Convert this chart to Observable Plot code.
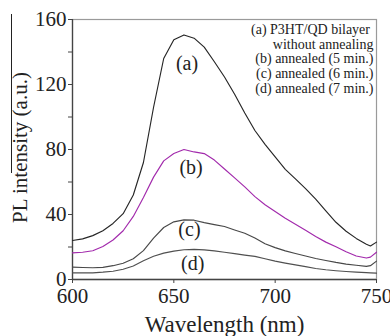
<!DOCTYPE html>
<html>
<head>
<meta charset="utf-8">
<script src="https://cdn.jsdelivr.net/npm/d3@7"></script>
<script src="https://cdn.jsdelivr.net/npm/@observablehq/plot@0.6"></script>
<style>
  html, body { margin: 0; padding: 0; background: #fff; }
  #wrap { position: relative; width: 390px; height: 336px; }
  #wrap svg text { font-family: "Liberation Serif", serif; }
  #stray { position: absolute; left: 11px; top: 14px; width: 1px; height: 159px; background: #222; }
</style>
</head>
<body>
<div id="wrap"><div id="stray"></div></div>
<script>
// Wavelength grid (nm)
const wavelength = [600,605,610,615,620,625,630,635,640,645,650,655,660,665,670,675,680,685,690,695,700,705,710,715,720,725,730,735,740,745,747,750];

// (a) P3HT/QD bilayer without annealing
const seriesA = [24,25,27,30,34.5,40.5,52,72,106,136,147.5,150.5,148.5,143,134,124.6,114,102.5,91.7,83.2,75.4,67.8,61.9,55.9,49.4,42.3,35.2,29.7,25.3,21.7,20.6,23];
// (b) annealed (5 min.)
const seriesB = [16.4,16.8,17.7,20.3,24.3,30,38.8,50.5,63,73,77.5,80,78.5,77.5,73.5,68,62.5,57,51,46,41.8,37.7,34,30.3,26.5,23,20.2,17.1,14.5,13.2,13.8,16.8];
// (c) annealed (6 min.)
const seriesC = [7.6,7.4,7.2,7.5,8.5,10,12.8,17.8,25.5,32,35.5,36.7,36.5,35,33.8,32.6,30.5,28.5,25.5,22,19.6,17.6,16,14.5,12.9,11.7,10.5,9.5,8.8,8.1,8.5,11.3];
// (d) annealed (7 min.)
const seriesD = [4.1,4.1,4.1,4.5,5.1,6.3,8.3,11.5,14.3,16.2,17.5,18.3,18.5,18.2,17.6,16.8,15.9,15,14.2,12.8,11.3,10.1,9,7.9,6.8,6,5.4,4.9,4.5,4.2,4.1,3.9];

const seriesKeys = ["a","b","c","d"];
const seriesColors = ["#262626","#a22aac","#484848","#505050"];

// curve labels
const labelText = ["(a)","(b)","(c)","(d)"];
const labelX = [656.5,658.5,657.7,659.3];
const labelY = [133,69,30.6,9.7];

const legendLines = ["(a) P3HT/QD bilayer ","without annealing","(b) annealed (5 min.)","(c) annealed (6 min.)","(d) annealed (7 min.)"];

const xTicks = [600,650,700,750];
const yTicks = [0,40,80,120,160];
const yMinor = [20,60,100,140];

const xTitle = "Wavelength (nm)";
const yTitle = "PL intensity (a.u.)";

const allSeries = [seriesA, seriesB, seriesC, seriesD];
const rows = [];
allSeries.forEach((s, k) => s.forEach((v, i) => rows.push({key: seriesKeys[k], x: wavelength[i], y: v})));
const labels = labelText.map((t, i) => ({t, x: labelX[i], y: labelY[i]}));

const font = "Liberation Serif";

const chart = Plot.plot({
  width: 390,
  height: 336,
  marginLeft: 72,
  marginRight: 14,
  marginTop: 19,
  marginBottom: 57,
  style: {fontFamily: font, background: "#fff", color: "#222"},
  x: {domain: [600, 750]},
  y: {domain: [0, 160]},
  color: {domain: seriesKeys, range: seriesColors},
  marks: [
    Plot.frame({stroke: "#9a9a9a", strokeWidth: 1.2}),
    Plot.axisY(yMinor, {tickSize: 4, tickFormat: () => "", stroke: "#444", label: null}),
    Plot.axisY(yTicks, {tickSize: 4, tickPadding: 2, fontSize: 21, fontFamily: font, stroke: "#444", fill: "#222", label: null}),
    Plot.axisX(xTicks, {tickSize: 4, tickPadding: 5, fontSize: 21, fontFamily: font, stroke: "#444", fill: "#222", label: null}),
    Plot.ruleX([600], {stroke: "#444", strokeWidth: 1.3}),
    Plot.ruleY([0], {stroke: "#444", strokeWidth: 1.3}),
    Plot.line(rows, {x: "x", y: "y", z: "key", stroke: "key", strokeWidth: 1.15, curve: "linear"}),
    Plot.text(labels, {x: "x", y: "y", text: "t", fontSize: 20, fontFamily: font, fill: "#222", lineAnchor: "middle"}),
    Plot.text([legendLines.join("\n")], {frameAnchor: "top-right", textAnchor: "end", lineAnchor: "top", dx: -3, dy: 4, fontSize: 14, fontFamily: font, lineHeight: 1.05, fill: "#222"}),
    Plot.text([xTitle], {frameAnchor: "bottom", textAnchor: "middle", lineAnchor: "middle", dy: 45, fontSize: 23, fontFamily: font, fill: "#222"}),
    Plot.text([yTitle], {frameAnchor: "left", textAnchor: "middle", lineAnchor: "middle", rotate: -90, dx: -52, dy: -2, fontSize: 21, fontFamily: font, fill: "#222"})
  ]
});
document.getElementById("wrap").prepend(chart);
</script>
</body>
</html>
